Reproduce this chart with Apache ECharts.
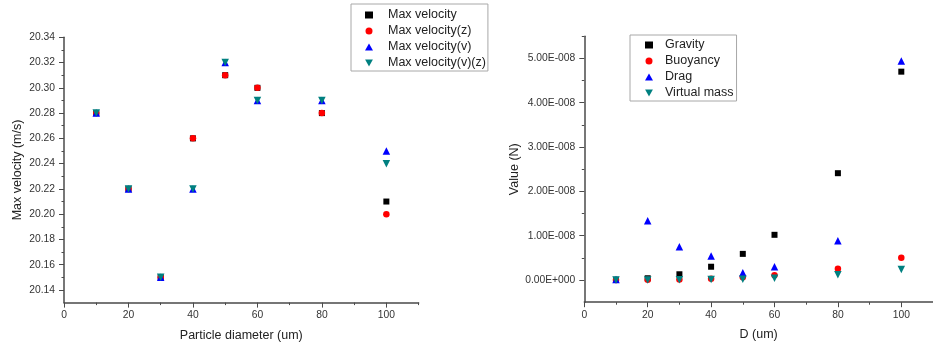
<!DOCTYPE html>
<html><head><meta charset="utf-8">
<script src="https://cdn.jsdelivr.net/npm/echarts@6/dist/echarts.min.js"></script>
<style>html,body{margin:0;padding:0;background:#fff}#c{width:933px;height:347px}</style>
</head><body><div id="c"></div>
<script>
// ---- data ----
const diameters = [10, 20, 30, 40, 50, 60, 80, 100];

const maxVelocity   = [20.28, 20.22, 20.15, 20.26, 20.31, 20.30, 20.28, 20.21];
const maxVelocityZ  = [20.28, 20.22, 20.15, 20.26, 20.31, 20.30, 20.28, 20.20];
const maxVelocityV  = [20.28, 20.22, 20.15, 20.22, 20.32, 20.29, 20.29, 20.25];
const maxVelocityVZ = [20.28, 20.22, 20.15, 20.22, 20.32, 20.29, 20.29, 20.24];

const gravity     = [0.005e-8, 0.04e-8, 0.13e-8, 0.30e-8, 0.59e-8, 1.02e-8, 2.41e-8, 4.70e-8];
const buoyancy    = [0.0005e-8, 0.004e-8, 0.014e-8, 0.03e-8, 0.06e-8, 0.11e-8, 0.255e-8, 0.50e-8];
const drag        = [0.01e-8, 1.335e-8, 0.75e-8, 0.54e-8, 0.165e-8, 0.30e-8, 0.885e-8, 4.94e-8];
const virtualMass = [0.0002e-8, 0.001e-8, 0.005e-8, 0.01e-8, 0.02e-8, 0.04e-8, 0.12e-8, 0.24e-8];

const xMajorTicks = [0, 20, 40, 60, 80, 100];
const xMinorTicks = [10, 30, 50, 70, 90, 110];
const velMajorTicks = [20.14, 20.16, 20.18, 20.20, 20.22, 20.24, 20.26, 20.28, 20.30, 20.32, 20.34];
const velMinorTicks = [20.15, 20.17, 20.19, 20.21, 20.23, 20.25, 20.27, 20.29, 20.31, 20.33];
const forceMajorTicks = [0, 1e-8, 2e-8, 3e-8, 4e-8, 5e-8];
const forceMinorTicks = [0.5e-8, 1.5e-8, 2.5e-8, 3.5e-8, 4.5e-8, 5.5e-8];

// ---- styling ----
const FONT = 'Arial, "Liberation Sans", sans-serif';
const AXIS_COLOR = '#4a4a4a';
const LABEL_COLOR = '#333';
const DOWN_TRIANGLE = 'path://M0,0 L10,0 L5,9 Z';

function sci(v) {
  if (Math.abs(v) < 1e-20) return '0.00E+000';
  const e = Math.floor(Math.log10(Math.abs(v)) + 1e-9);
  const m = v / Math.pow(10, e);
  return m.toFixed(2) + 'E' + (e < 0 ? '-' : '+') + String(Math.abs(e)).padStart(3, '0');
}

function mainAxis(opts) {
  return Object.assign({
    type: 'value',
    splitLine: { show: false },
    axisLine: { show: true, onZero: false, lineStyle: { color: AXIS_COLOR, width: 1.5 } },
    nameLocation: 'middle',
    nameTextStyle: { color: '#222', fontSize: 12.5, fontFamily: FONT }
  }, opts);
}
function minorAxis(opts) {
  return Object.assign({
    type: 'value',
    splitLine: { show: false },
    axisLine: { show: false, onZero: false },
    axisLabel: { show: false }
  }, opts);
}
function majorTick(vals) {
  return { show: true, length: 5, customValues: vals, lineStyle: { color: AXIS_COLOR, width: 1 } };
}
function minorTick(vals) {
  return { show: true, length: 2.5, customValues: vals, lineStyle: { color: AXIS_COLOR, width: 1 } };
}
function labels(vals, margin, formatter) {
  const o = { customValues: vals, color: LABEL_COLOR, fontSize: 10.3, fontFamily: FONT, margin };
  if (formatter) o.formatter = formatter;
  return o;
}

function pts(arr) { return diameters.map((d, i) => [d, arr[i]]); }

function sc(name, arr, xi, yi, symbol, size, color) {
  return {
    type: 'scatter', name, data: pts(arr), xAxisIndex: xi, yAxisIndex: yi,
    symbol, symbolSize: size,
    itemStyle: { color, opacity: 1 }, emphasis: { disabled: true }
  };
}

function legendOf(names, left, top, padding, textPad) {
  return {
    data: names.map((n, i) => i === 3 ? { name: n, icon: DOWN_TRIANGLE } : { name: n }),
    orient: 'vertical', left, top, padding,
    itemWidth: 8, itemHeight: 7, itemGap: 0,
    borderColor: '#a8a8a8', borderWidth: 1, backgroundColor: '#fff',
    textStyle: { fontSize: 12.5, fontFamily: FONT, color: '#222', lineHeight: 16, padding: [0, 0, 0, textPad] },
    selectedMode: false
  };
}

const chart = echarts.init(document.getElementById('c'), null, { renderer: 'canvas' });
chart.setOption({
  animation: false,
  backgroundColor: '#fff',
  grid: [
    { left: 64, top: 37.3, width: 354.6, height: 265.3 },
    { left: 584.3, top: 36.2, width: 355.8, height: 266 }
  ],
  xAxis: [
    mainAxis({ gridIndex: 0, min: 0, max: 110, position: 'bottom',
      axisTick: majorTick(xMajorTicks), axisLabel: labels(xMajorTicks, 8),
      name: 'Particle diameter (um)', nameGap: 26 }),
    minorAxis({ gridIndex: 0, min: 0, max: 110, position: 'bottom', axisTick: minorTick(xMinorTicks) }),
    mainAxis({ gridIndex: 1, min: 0, max: 110, position: 'bottom',
      axisTick: majorTick(xMajorTicks), axisLabel: labels(xMajorTicks, 8),
      name: 'D (um)', nameGap: 26 }),
    minorAxis({ gridIndex: 1, min: 0, max: 110, position: 'bottom', axisTick: minorTick(xMinorTicks) })
  ],
  yAxis: [
    mainAxis({ gridIndex: 0, min: 20.13, max: 20.34, position: 'left',
      axisTick: majorTick(velMajorTicks),
      axisLabel: labels(velMajorTicks, 9, v => Number(v).toFixed(2)),
      name: 'Max velocity (m/s)', nameGap: 40 }),
    minorAxis({ gridIndex: 0, min: 20.13, max: 20.34, position: 'left', axisTick: minorTick(velMinorTicks) }),
    mainAxis({ gridIndex: 1, min: -0.5e-8, max: 5.5e-8, position: 'left',
      axisTick: majorTick(forceMajorTicks),
      axisLabel: labels(forceMajorTicks, 9, v => sci(v)),
      name: 'Value (N)', nameGap: 62 }),
    minorAxis({ gridIndex: 1, min: -0.5e-8, max: 5.5e-8, position: 'left', axisTick: minorTick(forceMinorTicks) })
  ],
  legend: [
    legendOf(['Max velocity', 'Max velocity(z)', 'Max velocity(v)', 'Max velocity(v)(z)'], 351, 4, [3, 2, 0, 14], 10),
    legendOf(['Gravity', 'Buoyancy', 'Drag', 'Virtual mass'], 630, 35, [2, 3, 0, 15], 7)
  ],
  series: [
    sc('Max velocity', maxVelocity, 0, 0, 'rect', 6, '#000000'),
    sc('Max velocity(z)', maxVelocityZ, 0, 0, 'circle', 6.5, '#ff0000'),
    sc('Max velocity(v)', maxVelocityV, 0, 0, 'triangle', 7.5, '#0000ff'),
    sc('Max velocity(v)(z)', maxVelocityVZ, 0, 0, DOWN_TRIANGLE, 7.5, '#008080'),
    sc('Gravity', gravity, 2, 2, 'rect', 6, '#000000'),
    sc('Buoyancy', buoyancy, 2, 2, 'circle', 6.5, '#ff0000'),
    sc('Drag', drag, 2, 2, 'triangle', 7.5, '#0000ff'),
    sc('Virtual mass', virtualMass, 2, 2, DOWN_TRIANGLE, 7.5, '#008080')
  ]
});
</script>
</body></html>
